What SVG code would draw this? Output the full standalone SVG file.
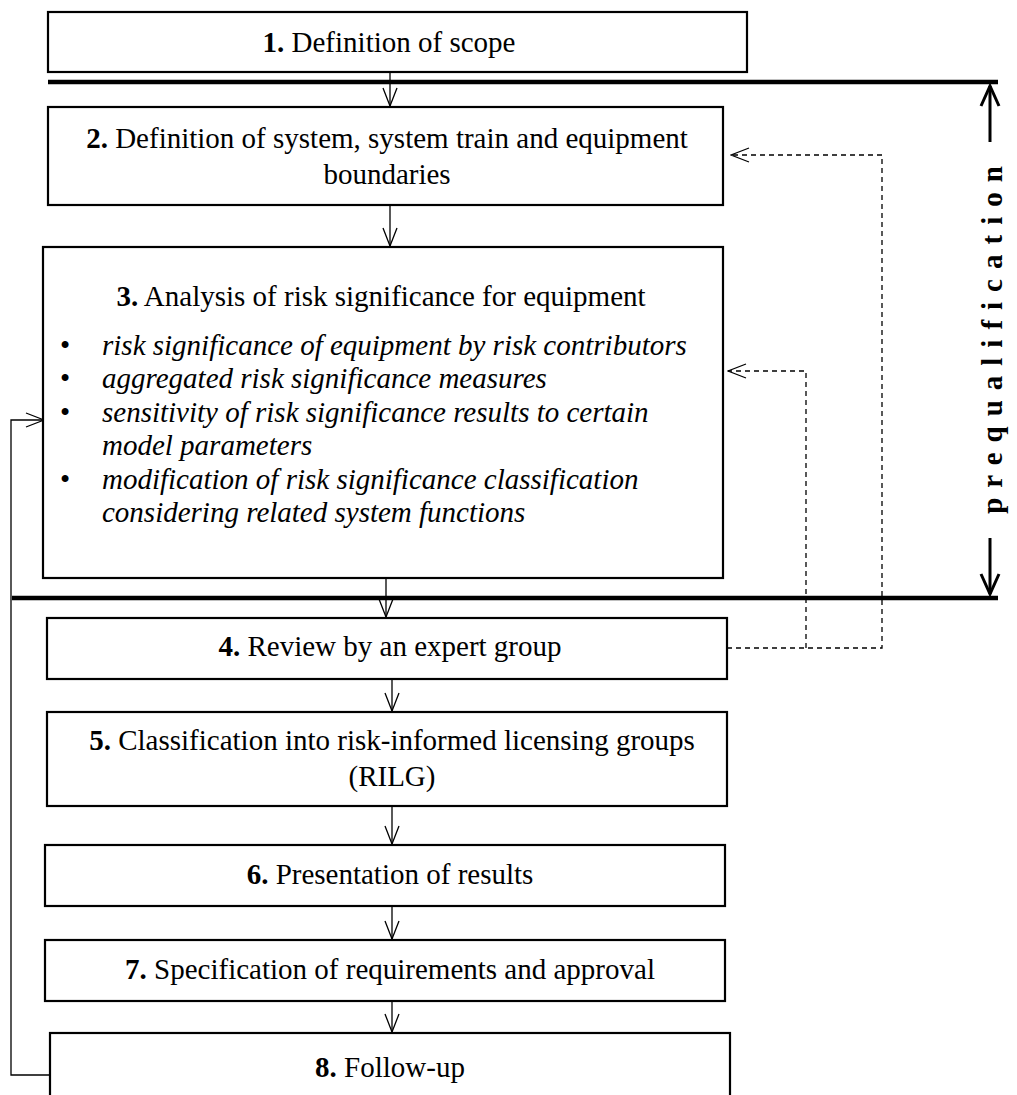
<svg xmlns="http://www.w3.org/2000/svg" width="1017" height="1095" viewBox="0 0 1017 1095">
<style>
.box{fill:#fff;stroke:#000;stroke-width:2.2}
.t{font-family:"Liberation Serif","Times New Roman",serif;font-size:29px;fill:#000}
.c{text-anchor:middle}
.i{font-style:italic}
.b{font-weight:bold}
.con{fill:none;stroke:#000;stroke-width:1.3}
.dash{fill:none;stroke:#000;stroke-width:1.3;stroke-dasharray:5,4}
.thick{stroke:#000;stroke-width:4.5}
</style>
<defs>
<marker id="open" viewBox="0 0 20 20" refX="19" refY="10" markerWidth="20" markerHeight="20" markerUnits="userSpaceOnUse" orient="auto">
<path d="M1,3 L19,10 L1,17" fill="none" stroke="#000" stroke-width="1.3"/>
</marker>
<marker id="bold" viewBox="0 0 24 24" refX="22" refY="12" markerWidth="24" markerHeight="24" markerUnits="userSpaceOnUse" orient="auto">
<path d="M2,3 L22,12 L2,21" fill="none" stroke="#000" stroke-width="3"/>
</marker>
</defs>

<g id="prequal">
<line class="thick" x1="48" y1="82" x2="998" y2="82"/>
<line class="thick" x1="12" y1="598" x2="998" y2="598"/>
<line x1="990" y1="142" x2="990" y2="86" stroke="#000" stroke-width="3" marker-end="url(#bold)"/>
<line x1="990" y1="538" x2="990" y2="594" stroke="#000" stroke-width="3" marker-end="url(#bold)"/>
<text class="t b" transform="translate(1002,335) rotate(-90)" text-anchor="middle" font-size="22" letter-spacing="10">prequalification</text>
</g>

<g id="connectors">
<line class="con" x1="390" y1="72" x2="390" y2="106" marker-end="url(#open)"/>
<line class="con" x1="390" y1="205" x2="390" y2="246" marker-end="url(#open)"/>
<line class="con" x1="386" y1="578" x2="386" y2="617" marker-end="url(#open)"/>
<line class="con" x1="392" y1="679" x2="392" y2="711" marker-end="url(#open)"/>
<line class="con" x1="392" y1="806" x2="392" y2="844" marker-end="url(#open)"/>
<line class="con" x1="392" y1="906" x2="392" y2="939" marker-end="url(#open)"/>
<line class="con" x1="392" y1="1001" x2="392" y2="1032" marker-end="url(#open)"/>
<polyline class="dash" points="727,648 882,648 882,155 731,155" marker-end="url(#open)"/>
<polyline class="dash" points="806,648 806,371 728,371" marker-end="url(#open)"/>
<polyline class="con" points="50,1075 11,1075 11,420 44,420" marker-end="url(#open)"/>
</g>

<g id="n1">
<rect class="box" x="48" y="12" width="699" height="60"/>
<text class="t c" x="389" y="52"><tspan class="b">1.</tspan> Definition of scope</text>
</g>
<g id="n2">
<rect class="box" x="48" y="107" width="675" height="98"/>
<text class="t c" x="387" y="148"><tspan class="b">2.</tspan> Definition of system, system train and equipment</text>
<text class="t c" x="387" y="184">boundaries</text>
</g>
<g id="n3">
<rect class="box" x="43" y="247" width="680" height="331"/>
<text class="t c" x="381" y="306"><tspan class="b">3.</tspan> Analysis of risk significance for equipment</text>
<g class="t">
<text x="60" y="355">•</text>
<text x="60" y="388">•</text>
<text x="60" y="422">•</text>
<text x="60" y="489">•</text>
</g>
<g class="t i">
<text x="102" y="355">risk significance of equipment by risk contributors</text>
<text x="102" y="388">aggregated risk significance measures</text>
<text x="102" y="422">sensitivity of risk significance results to certain</text>
<text x="102" y="455">model parameters</text>
<text x="102" y="489">modification of risk significance classification</text>
<text x="102" y="522">considering related system functions</text>
</g>
</g>
<g id="n4">
<rect class="box" x="47" y="618" width="680" height="61"/>
<text class="t c" x="390" y="656"><tspan class="b">4.</tspan> Review by an expert group</text>
</g>
<g id="n5">
<rect class="box" x="47" y="712" width="680" height="94"/>
<text class="t c" x="392" y="750"><tspan class="b">5.</tspan> Classification into risk-informed licensing groups</text>
<text class="t c" x="392" y="786">(RILG)</text>
</g>
<g id="n6">
<rect class="box" x="45" y="845" width="680" height="61"/>
<text class="t c" x="390" y="884"><tspan class="b">6.</tspan> Presentation of results</text>
</g>
<g id="n7">
<rect class="box" x="45" y="940" width="680" height="61"/>
<text class="t c" x="390" y="979"><tspan class="b">7.</tspan> Specification of requirements and approval</text>
</g>
<g id="n8">
<rect class="box" x="50" y="1033" width="680" height="70"/>
<text class="t c" x="390" y="1077"><tspan class="b">8.</tspan> Follow-up</text>
</g>
</svg>
